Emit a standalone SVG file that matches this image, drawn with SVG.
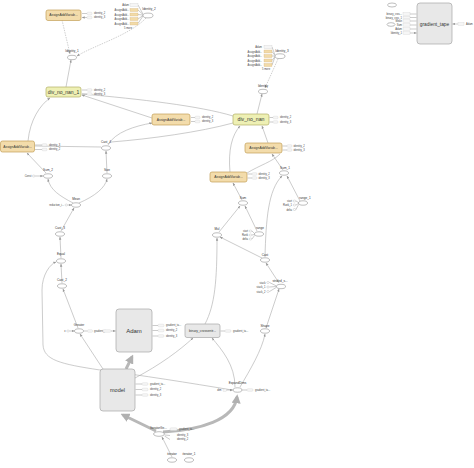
<svg xmlns="http://www.w3.org/2000/svg" width="474" height="468" viewBox="0 0 474 468">
<defs>
<marker id="a" viewBox="0 0 10 10" refX="9" refY="5" markerWidth="3" markerHeight="3" markerUnits="userSpaceOnUse" orient="auto"><path d="M0,1 L10,5 L0,9z" fill="#999"/></marker>
<marker id="b" viewBox="0 0 10 10" refX="7" refY="5" markerWidth="9" markerHeight="9" markerUnits="userSpaceOnUse" orient="auto"><path d="M0,0 L10,5 L0,10z" fill="#b0b0b0"/></marker>
</defs>
<style>
.e{fill:none;stroke:#a9a9a9;stroke-width:0.6}
.d{fill:none;stroke:#b0b0b0;stroke-width:0.6;stroke-dasharray:1.5,1}
.t{fill:none;stroke:#b8b8b8;stroke-width:3}
.op{fill:#fff;stroke:#7d7d7d;stroke-width:0.5}
.sr{fill:#f6f6f6;stroke:#c9c9c9;stroke-width:0.3}
.se{fill:#fff;stroke:#999;stroke-width:0.3}
.tan{fill:#f2dba8;stroke:#d0b078;stroke-width:0.3}
.aa{fill:#f3dcab;stroke:#c39f58;stroke-width:0.7}
.dv{fill:#eef0b4;stroke:#b3b066;stroke-width:0.7}
.bg{fill:#e8e8e8;stroke:#a6a6a6;stroke-width:0.7}
text{font-family:"Liberation Sans",Arial,sans-serif;fill:#333}
.l{font-size:3.1px;text-anchor:middle}
.s{font-size:2.6px;fill:#444}
.r{font-size:2.6px;fill:#444;text-anchor:end}
.n{font-size:3.4px;text-anchor:middle}
</style>

<g id="connectors">
<path class="e" d="M66,87 L71,60" marker-end="url(#a)"/>
<path class="d" d="M62,20 L70,54" marker-end="url(#a)"/>
<path class="d" d="M146,18 C130,35 95,45 77,56" marker-end="url(#a)"/>
<path class="e" d="M28,141 C30,120 40,105 50,98" marker-end="url(#a)"/>
<path class="e" d="M152,118 L82,95" marker-end="url(#a)"/>
<path class="e" d="M233,116 C200,106 140,99 82,94"/>
<path class="e" d="M108,145 C115,132 135,126 152,123" marker-end="url(#a)"/>
<path class="e" d="M101,147 L35,146"/>
<path class="e" d="M111,142 C150,139 200,132 233,123"/>
<path class="e" d="M46,173 L27,153" marker-end="url(#a)"/>
<path class="e" d="M73,203 C60,196 50,190 48,179" marker-end="url(#a)"/>
<path class="e" d="M79,203 C95,196 105,188 107,179" marker-end="url(#a)"/>
<path class="e" d="M107,173 L106,151" marker-end="url(#a)"/>
<path class="e" d="M61,231 L74,208" marker-end="url(#a)"/>
<path class="e" d="M61,258 L60,237" marker-end="url(#a)"/>
<path class="e" d="M62,283 L61,264" marker-end="url(#a)"/>
<path class="e" d="M78,328 L63,289" marker-end="url(#a)"/>
<path class="e" d="M103,369 L80,334" marker-end="url(#a)"/>
<path class="e" d="M232,390 C190,383 140,375 100,370 C60,364 44,360 43,345 L42,290 C42,275 50,264 56,262" marker-end="url(#a)"/>
<path class="e" d="M135,378 C160,365 180,350 193,338" marker-end="url(#a)"/>
<path class="e" d="M235,387 C235,365 222,350 212,338" marker-end="url(#a)"/>
<path class="e" d="M240,387 C250,370 262,350 265,334" marker-end="url(#a)"/>
<path class="e" d="M205,324 C215,305 217,280 217,238" marker-end="url(#a)"/>
<path class="e" d="M266,328 L279,289" marker-end="url(#a)"/>
<path class="e" d="M279,283 L266,263" marker-end="url(#a)"/>
<path class="e" d="M262,258 L220,237" marker-end="url(#a)"/>
<path class="e" d="M265,257 C266,220 268,190 282,176" marker-end="url(#a)"/>
<path class="e" d="M300,201 L287,176" marker-end="url(#a)"/>
<path class="e" d="M257,231 L245,206" marker-end="url(#a)"/>
<path class="e" d="M219,232 L240,206" marker-end="url(#a)"/>
<path class="e" d="M242,200 L233,183" marker-end="url(#a)"/>
<path class="e" d="M283,170 L272,154" marker-end="url(#a)"/>
<path class="e" d="M247,173 C260,165 272,162 280,154"/>
<path class="e" d="M230,172 C228,150 232,135 240,126" marker-end="url(#a)"/>
<path class="e" d="M268,143 L262,126" marker-end="url(#a)"/>
<path class="e" d="M257,114 L262,94" marker-end="url(#a)"/>
<path class="d" d="M278,59 L265,88" marker-end="url(#a)"/>
<path class="e" d="M172,457 L162,437" marker-end="url(#a)"/>
<path class="t" d="M156,431 L123,415" marker-end="url(#b)"/>
<path class="t" d="M163,432 C200,430 234,420 237,397" marker-end="url(#b)"/>
<path class="t" d="M126,369 L132,357" marker-end="url(#b)"/>
<path class="e" d="M138,5 L143,14 M138,10 L143,14.5 M138,14.5 L143,15 M138,19 L143,15.5 M138,23.5 L143,16"/>
<path class="e" d="M272,47 L275,55 M272,51.5 L275,55.5 M272,56 L275,56 M272,60.5 L275,56.5 M272,65 L275,57"/>
</g>

<g id="node-identity2">
<text class="r" x="129" y="6">Adam</text><rect class="sr" x="130" y="3.5" width="8" height="3"/>
<text class="r" x="129" y="11">AssignAdd...</text><rect class="tan" x="130" y="8.5" width="8" height="3"/>
<text class="r" x="129" y="15.5">AssignAdd...</text><rect class="tan" x="130" y="13" width="8" height="3"/>
<text class="r" x="129" y="20">AssignAdd...</text><rect class="tan" x="130" y="17.5" width="8" height="3"/>
<text class="r" x="129" y="24.5">AssignAdd...</text><rect class="tan" x="130" y="22" width="8" height="3"/>
<text class="s" x="124" y="28.5">5 more</text>
<text class="l" x="149" y="10">Identity_2</text>
<ellipse class="op" cx="148" cy="15.5" rx="5" ry="2.4"/>
</g>

<g id="node-assignadd1">
<rect class="aa" x="46" y="10" width="35" height="10.5" rx="2"/>
<text class="n" x="63.5" y="16.4">AssignAddVariab...</text>
<path class="e" d="M87,13.5 L82,13.5 M87,17.5 L82,17.5" marker-end="url(#a)"/>
<rect class="sr" x="87" y="12.2" width="5" height="2.6" rx="1"/><text class="s" x="94" y="14.4">identity_2</text>
<rect class="sr" x="87" y="16.2" width="5" height="2.6" rx="1"/><text class="s" x="94" y="18.4">identity_3</text>
</g>

<g id="node-identity1">
<text class="l" x="72" y="52">Identity_1</text>
<ellipse class="op" cx="72" cy="57.5" rx="4.5" ry="2.2"/>
</g>

<g id="node-divnonan1">
<rect class="dv" x="46" y="87" width="35" height="10" rx="2"/>
<text x="63.5" y="93.8" style="font-size:5px;text-anchor:middle">div_no_nan_1</text>
<path class="e" d="M87,90 L82,90 M87,94 L82,94"/>
<rect class="sr" x="87" y="88.7" width="5" height="2.6" rx="1"/><text class="s" x="94" y="90.9">identity_2</text>
<rect class="sr" x="87" y="92.7" width="5" height="2.6" rx="1"/><text class="s" x="94" y="94.9">identity_3</text>
</g>

<g id="node-assignadd-mid">
<rect class="aa" x="152" y="114" width="38" height="11" rx="2"/>
<text class="n" x="171" y="120.7">AssignAddVariab...</text>
<path class="e" d="M195,117.5 L191,117.5 M195,121.5 L191,121.5"/>
<rect class="sr" x="195" y="116.2" width="5" height="2.6" rx="1"/><text class="s" x="202" y="118.4">identity_2</text>
<rect class="sr" x="195" y="120.2" width="5" height="2.6" rx="1"/><text class="s" x="202" y="122.4">identity_3</text>
</g>

<g id="node-assignadd-left">
<rect class="aa" x="0.5" y="141" width="34" height="11" rx="2"/>
<text class="n" x="17.5" y="147.7">AssignAddVariab...</text>
<path class="e" d="M42,145 L35,145 M42,149.5 L35,149.5"/>
<rect class="sr" x="42" y="143.7" width="5" height="2.6" rx="1"/><text class="s" x="49" y="145.9">identity_3</text>
<rect class="sr" x="42" y="148.2" width="5" height="2.6" rx="1"/><text class="s" x="49" y="150.4">identity_2</text>
</g>

<g id="node-cast4"><text class="l" x="106" y="142.5">Cast_4</text><ellipse class="op" cx="106" cy="148" rx="4.5" ry="2.2"/></g>
<g id="node-size"><text class="l" x="107" y="170.5">Size</text><ellipse class="op" cx="107" cy="176" rx="4.5" ry="2.2"/></g>
<g id="node-sum2"><text class="l" x="48" y="170.5">Sum_2</text><ellipse class="op" cx="48" cy="176" rx="4.5" ry="2.2"/>
<text class="r" x="31.5" y="177">Const</text><ellipse class="se" cx="33.7" cy="176" rx="1.3" ry="1"/><path class="e" d="M35.2,176 L43,176" marker-end="url(#a)"/></g>
<g id="node-mean"><text class="l" x="76" y="199.5">Mean</text><ellipse class="op" cx="76" cy="205" rx="4.5" ry="2.2"/>
<text class="r" x="64" y="206">reduction_i...</text><ellipse class="se" cx="66.3" cy="205" rx="1.3" ry="1"/><path class="e" d="M67.8,205 L71.2,205" marker-end="url(#a)"/></g>
<g id="node-cast3"><text class="l" x="60" y="228.5">Cast_3</text><ellipse class="op" cx="60" cy="234" rx="4.5" ry="2.2"/></g>
<g id="node-equal"><text class="l" x="61" y="255">Equal</text><ellipse class="op" cx="61" cy="261" rx="4.5" ry="2.2"/></g>
<g id="node-cast2"><text class="l" x="62" y="280.5">Cast_2</text><ellipse class="op" cx="62" cy="286" rx="4.5" ry="2.2"/></g>
<g id="node-greater"><text class="l" x="79" y="325.5">Greater</text><ellipse class="op" cx="79" cy="331" rx="4.5" ry="2.2"/>
<text class="r" x="65.5" y="332">x</text><ellipse class="se" cx="68" cy="331" rx="1.4" ry="1"/><path class="e" d="M69.5,331 L74.3,331" marker-end="url(#a)"/>
<path class="e" d="M87.5,331 L84,331"/><rect class="sr" x="87.5" y="329.7" width="5" height="2.6" rx="1"/><text class="s" x="94" y="332">gradient_ta...</text></g>

<g id="node-adam">
<rect class="bg" x="116" y="309" width="36" height="43" rx="3"/>
<text x="134" y="333" style="font-size:6px;text-anchor:middle">Adam</text>
<rect class="sr" x="103" y="329.7" width="8" height="2.6" rx="1"/><path class="e" d="M111,331 L115.5,331" marker-end="url(#a)"/>
<path class="e" d="M158,325.5 L152.5,325.5 M158,330.5 L152.5,330.5 M158,336 L152.5,336"/>
<rect class="sr" x="158" y="324.2" width="6" height="2.6" rx="1"/><text class="s" x="166" y="326.4">gradient_ta...</text>
<rect class="sr" x="158" y="329.2" width="6" height="2.6" rx="1"/><text class="s" x="166" y="331.4">identity_2</text>
<rect class="sr" x="158" y="334.7" width="6" height="2.6" rx="1"/><text class="s" x="166" y="336.9">identity_3</text>
</g>

<g id="node-binary">
<rect class="bg" x="185" y="324" width="35" height="13.5" rx="2"/>
<text x="202.5" y="332" style="font-size:3.3px;text-anchor:middle">binary_crossentr...</text>
<path class="e" d="M225,331 L220.5,331"/><rect class="sr" x="225" y="329.7" width="6" height="2.6" rx="1"/><text class="s" x="233" y="332">gradient_ta...</text>
</g>

<g id="node-model">
<rect class="bg" x="100" y="369" width="35" height="42" rx="3"/>
<text x="117.5" y="392" style="font-size:5.5px;text-anchor:middle">model</text>
<path class="e" d="M142,384 L135.5,384 M142,389.5 L135.5,389.5 M142,395 L135.5,395"/>
<rect class="sr" x="142" y="382.7" width="6" height="2.6" rx="1"/><text class="s" x="150" y="384.9">gradient_ta...</text>
<rect class="sr" x="142" y="388.2" width="6" height="2.6" rx="1"/><text class="s" x="150" y="390.4">identity_2</text>
<rect class="sr" x="142" y="393.7" width="6" height="2.6" rx="1"/><text class="s" x="150" y="395.9">identity_3</text>
</g>

<g id="node-expanddims"><text class="l" x="237.5" y="384">ExpandDims</text><ellipse class="op" cx="237.5" cy="390" rx="4.5" ry="2.2"/>
<text class="r" x="221.5" y="391">dim</text><rect class="sr" x="223" y="389" width="3.5" height="2.2"/><path class="e" d="M226.5,390 L232.7,390" marker-end="url(#a)"/>
<path class="e" d="M247,390 L242.2,390"/><rect class="sr" x="247" y="388.7" width="6" height="2.6" rx="1"/><text class="s" x="255" y="391">gradient_ta...</text></g>

<g id="node-iteratorgetnext"><text class="l" x="158.5" y="429">IteratorGe...</text><ellipse class="op" cx="159" cy="434" rx="5.5" ry="2.3"/>
<rect class="sr" x="170" y="427.8" width="7" height="2.6" rx="1"/><text class="s" x="179" y="430">gradient_ta...</text>
<path class="e" d="M170,435.5 L165,435 M170,439.5 L164.5,436"/>
<text class="s" x="177" y="436.4">identity_3</text><text class="s" x="177" y="440.4">identity_2</text></g>
<g id="node-iterator"><text class="l" x="172" y="454.5">iterator</text><ellipse class="op" cx="172" cy="460" rx="4.5" ry="2.2"/></g>
<g id="node-iterator1"><text class="l" x="189" y="454.5">iterator_1</text><ellipse class="op" cx="189" cy="460" rx="4.5" ry="2.2"/></g>

<g id="node-shape"><text class="l" x="265" y="326.5">Shape</text><ellipse class="op" cx="265" cy="331" rx="4.5" ry="2.2"/></g>
<g id="node-strided"><text class="l" x="280" y="282">strided_s...</text><ellipse class="op" cx="281" cy="286.5" rx="4.5" ry="2.2"/>
<text class="r" x="265.5" y="283.5">stack</text><ellipse class="se" cx="268" cy="282.5" rx="1.3" ry="1"/>
<text class="r" x="265.5" y="288">stack_1</text><ellipse class="se" cx="268" cy="287" rx="1.3" ry="1"/>
<text class="r" x="265.5" y="292.5">stack_2</text><ellipse class="se" cx="268" cy="291.5" rx="1.3" ry="1"/>
<path class="e" d="M269.5,282.5 L276.5,286 M269.5,287 L276.3,286.5 M269.5,291.5 L276.5,287.3"/></g>
<g id="node-cast"><text class="l" x="265" y="255.5">Cast</text><ellipse class="op" cx="265" cy="260" rx="4.5" ry="2.2"/></g>
<g id="node-mul"><text class="l" x="217" y="229.5">Mul</text><ellipse class="op" cx="217" cy="235" rx="4.5" ry="2.2"/></g>
<g id="node-range"><text class="l" x="260" y="229">range</text><ellipse class="op" cx="259" cy="234" rx="4.5" ry="2.2"/>
<text class="r" x="248" y="232">start</text><ellipse class="se" cx="250.5" cy="231" rx="1.3" ry="1"/>
<text class="r" x="248" y="236">Rank</text><ellipse class="se" cx="250.5" cy="235" rx="1.3" ry="1"/>
<text class="r" x="248" y="240">delta</text><ellipse class="se" cx="250.5" cy="239" rx="1.3" ry="1"/>
<path class="e" d="M252,231 L254.5,233.5 M252,235 L254.5,234.5 M252,239 L254.7,235.3"/></g>
<g id="node-range1"><text class="l" x="305" y="198.5">range_1</text><ellipse class="op" cx="303" cy="203" rx="4.5" ry="2.2"/>
<text class="r" x="292" y="202">start</text><ellipse class="se" cx="294.5" cy="201" rx="1.3" ry="1"/>
<text class="r" x="292" y="206">Rank_1</text><ellipse class="se" cx="294.5" cy="205" rx="1.3" ry="1"/>
<text class="r" x="292" y="210.5">delta</text><ellipse class="se" cx="294.5" cy="209.5" rx="1.3" ry="1"/>
<path class="e" d="M296,201 L298.5,202.5 M296,205 L298.5,203.5 M296,209.5 L298.7,204.3"/></g>
<g id="node-sum"><text class="l" x="243" y="198.5">Sum</text><ellipse class="op" cx="243" cy="203" rx="4.5" ry="2.2"/></g>
<g id="node-sum1"><text class="l" x="285" y="168.5">Sum_1</text><ellipse class="op" cx="284" cy="173" rx="4.5" ry="2.2"/></g>

<g id="node-assignadd-lower">
<rect class="aa" x="210" y="172" width="37" height="10" rx="2"/>
<text class="n" x="228.5" y="178.2">AssignAddVariab...</text>
<path class="e" d="M252,174 L247.5,174 M252,178 L247.5,178"/>
<rect class="sr" x="252" y="172.7" width="5" height="2.6" rx="1"/><text class="s" x="258.5" y="174.9">identity_2</text>
<rect class="sr" x="252" y="176.7" width="5" height="2.6" rx="1"/><text class="s" x="258.5" y="178.9">identity_3</text>
</g>
<g id="node-assignadd-right">
<rect class="aa" x="245" y="143" width="37" height="10" rx="2"/>
<text class="n" x="263.5" y="149.2">AssignAddVariab...</text>
<path class="e" d="M287,146 L282.5,146 M287,150 L282.5,150"/>
<rect class="sr" x="287" y="144.7" width="5" height="2.6" rx="1"/><text class="s" x="293.5" y="146.9">identity_2</text>
<rect class="sr" x="287" y="148.7" width="5" height="2.6" rx="1"/><text class="s" x="293.5" y="150.9">identity_3</text>
</g>
<g id="node-divnonan">
<rect class="dv" x="233" y="114" width="36" height="11" rx="2"/>
<text x="251" y="121.3" style="font-size:5.2px;text-anchor:middle">div_no_nan</text>
<path class="e" d="M273,117.5 L269.5,117.5 M273,122 L269.5,122"/>
<rect class="sr" x="273" y="116.2" width="5" height="2.6" rx="1"/><text class="s" x="280" y="118.4">identity_2</text>
<rect class="sr" x="273" y="120.7" width="5" height="2.6" rx="1"/><text class="s" x="280" y="122.9">identity_3</text>
</g>
<g id="node-identity"><text class="l" x="263" y="86.5">Identity</text><ellipse class="op" cx="263" cy="91.5" rx="4.5" ry="2.2"/></g>

<g id="node-identity3">
<text class="r" x="262" y="48">Adam</text><rect class="sr" x="264" y="45.5" width="8" height="3"/>
<text class="r" x="262" y="52.5">AssignAdd...</text><rect class="tan" x="264" y="50" width="8" height="3"/>
<text class="r" x="262" y="57">AssignAdd...</text><rect class="tan" x="264" y="54.5" width="8" height="3"/>
<text class="r" x="262" y="61.5">AssignAdd...</text><rect class="tan" x="264" y="59" width="8" height="3"/>
<text class="r" x="262" y="66">AssignAdd...</text><rect class="tan" x="264" y="63.5" width="8" height="3"/>
<text class="s" x="262" y="70.2">5 more</text>
<text class="l" x="282" y="51.5">Identity_3</text>
<ellipse class="op" cx="280" cy="56.2" rx="5" ry="2.4"/>
</g>

<g id="node-gradient-tape">
<ellipse class="op" cx="392" cy="5" rx="4.5" ry="2"/>
<rect class="bg" x="417" y="3" width="35" height="41" rx="3"/>
<text x="434.5" y="25.5" style="font-size:4.8px;text-anchor:middle">gradient_tape</text>
<text class="r" x="402" y="15">binary_cros...</text><rect class="sr" x="403" y="12.8" width="7" height="2.4"/>
<text class="r" x="402" y="18.5">binary_cros_1</text><rect class="sr" x="403" y="16.3" width="7" height="2.4"/>
<text class="r" x="402" y="22">Mean</text><rect class="sr" x="403" y="19.8" width="7" height="2.4"/>
<ellipse class="op" cx="391" cy="24.5" rx="4" ry="1.8"/>
<text class="r" x="402" y="25.9">Sum</text><rect class="sr" x="403" y="23.7" width="7" height="2.4"/>
<text class="r" x="402" y="30">Adam</text><rect class="sr" x="403" y="27.8" width="7" height="2.4"/>
<text class="r" x="402" y="34">Identity_1</text><rect class="sr" x="403" y="31.8" width="7" height="2.4"/>
<path class="e" d="M410,14 L416.5,14 M410,17.5 L416.5,17.5 M410,21 L416.5,21 M410,25 L416.5,25 M410,29 L416.5,29 M410,33 L416.5,33" marker-end="url(#a)"/>
<path class="e" d="M458,24 L452.5,24" marker-end="url(#a)"/>
<rect class="sr" x="458" y="22.8" width="6" height="2.4"/><text class="s" x="466" y="25">Adam</text>
</g>
</svg>
